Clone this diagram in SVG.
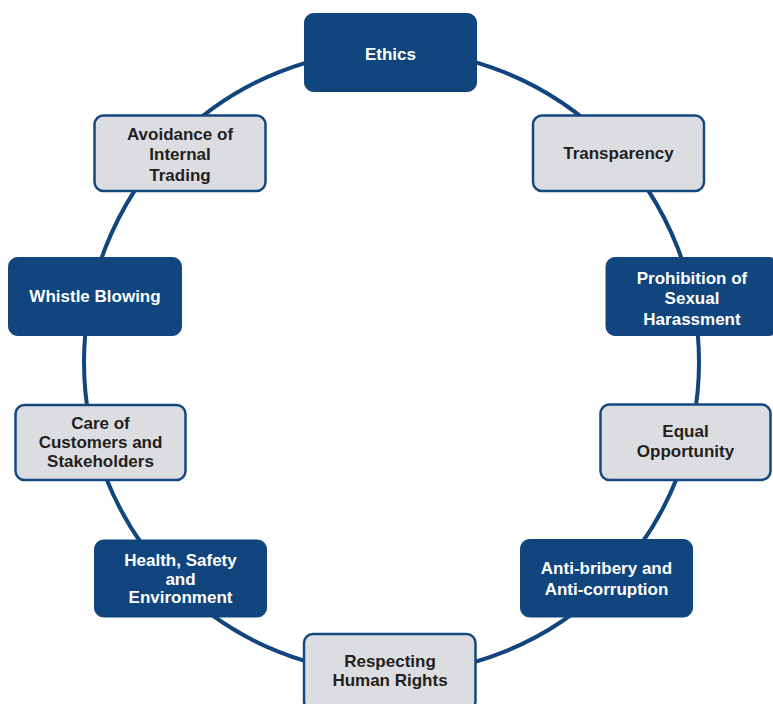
<svg xmlns="http://www.w3.org/2000/svg" width="773" height="704" viewBox="0 0 773 704">
<style>
.dark rect{fill:#10457d;stroke:#10457d;stroke-width:1}
.light rect{fill:#dcdde0;stroke:#14487f;stroke-width:2.5}
text{font-family:"Liberation Sans",Arial,Helvetica,sans-serif;font-weight:bold;font-size:17px;text-anchor:middle}
.dark text{fill:#ffffff}
.light text{fill:#231f20}
.ring{fill:none;stroke:#10457d;stroke-width:4}
</style>
<rect width="773" height="704" fill="#ffffff"/>
<g id="connectors">
<ellipse class="ring" cx="391.5" cy="362" rx="307.5" ry="311.5"/>
</g>
<g id="ethics" class="dark">
<rect x="304.5" y="13.5" width="172" height="78" rx="9"/>
<text x="390.5" y="59.5">Ethics</text>
</g>
<g id="transparency" class="light">
<rect x="533" y="115.5" width="171" height="75.5" rx="9"/>
<text x="618.5" y="159">Transparency</text>
</g>
<g id="prohibition" class="dark">
<rect x="606" y="257.5" width="172" height="78" rx="9"/>
<text x="692" y="283.5">Prohibition of</text>
<text x="692" y="304">Sexual</text>
<text x="692" y="324.5">Harassment</text>
</g>
<g id="equal-opportunity" class="light">
<rect x="600.5" y="404.5" width="170" height="75.5" rx="9"/>
<text x="685.5" y="436.5">Equal</text>
<text x="685.5" y="457">Opportunity</text>
</g>
<g id="anti-bribery" class="dark">
<rect x="520.5" y="539.5" width="172" height="77.5" rx="9"/>
<text x="606.5" y="573.5">Anti-bribery and</text>
<text x="606.5" y="594.5">Anti-corruption</text>
</g>
<g id="human-rights" class="light">
<rect x="304" y="634" width="171.5" height="76" rx="9"/>
<text x="390" y="666.5">Respecting</text>
<text x="390" y="686">Human Rights</text>
</g>
<g id="health-safety" class="dark">
<rect x="94.5" y="540" width="172" height="77" rx="9"/>
<text x="180.5" y="566">Health, Safety</text>
<text x="180.5" y="584.5">and</text>
<text x="180.5" y="603">Environment</text>
</g>
<g id="care-customers" class="light">
<rect x="15.5" y="405" width="170" height="75" rx="9"/>
<text x="100.5" y="428.5">Care of</text>
<text x="100.5" y="448">Customers and</text>
<text x="100.5" y="466.5">Stakeholders</text>
</g>
<g id="whistle-blowing" class="dark">
<rect x="8.5" y="257.5" width="173" height="78" rx="9"/>
<text x="95" y="302">Whistle Blowing</text>
</g>
<g id="internal-trading" class="light">
<rect x="94.5" y="115.5" width="171" height="75.5" rx="9"/>
<text x="180" y="139.5">Avoidance of</text>
<text x="180" y="160">Internal</text>
<text x="180" y="180.5">Trading</text>
</g>
</svg>
